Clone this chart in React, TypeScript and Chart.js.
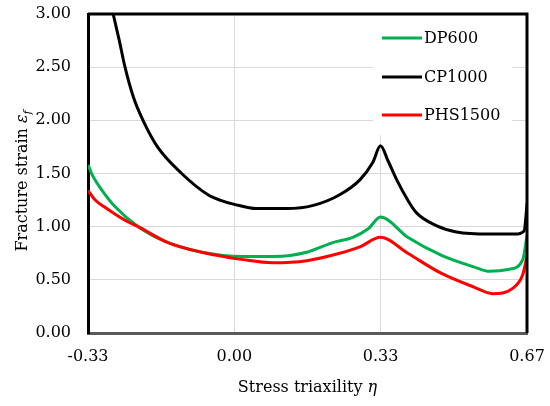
import { useRef, useEffect } from "react";
import { Chart, registerables, type Plugin } from "chart.js";

Chart.register(...registerables);

const FONT = "'DejaVu Serif', 'Liberation Serif', serif";

// stress triaxiality (x) and fracture strain (y)
const dp600Eta = [-0.333, -0.324, -0.301, -0.272, -0.219, -0.151, -0.074, 0.02, 0.09, 0.165, 0.224, 0.27, 0.305, 0.333, 0.395, 0.472, 0.547, 0.581, 0.627, 0.657, 0.667];
const dp600Strain = [1.58, 1.49, 1.34, 1.19, 1.0, 0.85, 0.76, 0.72, 0.72, 0.76, 0.85, 0.9, 0.98, 1.09, 0.9, 0.73, 0.62, 0.58, 0.6, 0.69, 0.92];

const cp1000Eta = [-0.276, -0.262, -0.249, -0.23, -0.208, -0.175, -0.12, -0.06, -0.033, 0.0, 0.05, 0.12, 0.18, 0.24, 0.286, 0.315, 0.333, 0.35, 0.37, 0.395, 0.415, 0.46, 0.506, 0.581, 0.64, 0.66, 0.667];
const cp1000Strain = [3.0, 2.75, 2.5, 2.22, 2.0, 1.75, 1.5, 1.3, 1.25, 1.21, 1.17, 1.17, 1.2, 1.3, 1.44, 1.6, 1.76, 1.62, 1.44, 1.25, 1.13, 1.01, 0.95, 0.93, 0.93, 0.96, 1.22];

const phs1500Eta = [-0.333, -0.317, -0.294, -0.249, -0.219, -0.151, -0.074, 0.02, 0.088, 0.165, 0.24, 0.286, 0.333, 0.395, 0.472, 0.547, 0.588, 0.634, 0.657, 0.667];
const phs1500Strain = [1.34, 1.25, 1.18, 1.06, 1.0, 0.85, 0.76, 0.69, 0.66, 0.68, 0.75, 0.81, 0.9, 0.75, 0.56, 0.43, 0.37, 0.42, 0.55, 0.73];

const seriesNames = ["DP600", "CP1000", "PHS1500"];
const seriesColors = ["#00b050", "#000000", "#ff0000"];

const xTicks = [-1 / 3, 0, 1 / 3, 2 / 3];

const toPoints = (xs: number[], ys: number[]) => xs.map((x, i) => ({ x, y: ys[i] }));

// titles, legend box and the top/right frame
const decorPlugin: Plugin<"line"> = {
  id: "decor",
  afterDatasetsDraw(chart) {
    const { ctx, chartArea } = chart;
    ctx.save();

    // legend
    ctx.fillStyle = "#fff";
    ctx.fillRect(373, chartArea.top, 139, 121);
    const rows = [38, 77, 115];
    ctx.font = `16px ${FONT}`;
    ctx.textBaseline = "middle";
    chart.data.datasets.forEach((ds, i) => {
      ctx.strokeStyle = ds.borderColor as string;
      ctx.lineWidth = 3;
      ctx.beginPath();
      ctx.moveTo(382, rows[i]);
      ctx.lineTo(422, rows[i]);
      ctx.stroke();
      ctx.fillStyle = "#000";
      ctx.fillText(ds.label ?? "", 424, rows[i] + 1);
    });

    // frame top/right
    ctx.strokeStyle = "#000";
    ctx.lineWidth = 3;
    ctx.beginPath();
    ctx.moveTo(chartArea.left, chartArea.top);
    ctx.lineTo(chartArea.right, chartArea.top);
    ctx.lineTo(chartArea.right, chartArea.bottom);
    ctx.stroke();

    // x title
    ctx.fillStyle = "#000";
    ctx.textBaseline = "alphabetic";
    const xa = "Stress triaxility ";
    ctx.font = `16px ${FONT}`;
    const wa = ctx.measureText(xa).width;
    ctx.font = `italic 16px ${FONT}`;
    const wb = ctx.measureText("η").width;
    let sx = (chartArea.left + chartArea.right) / 2 - (wa + wb) / 2;
    ctx.font = `16px ${FONT}`;
    ctx.fillText(xa, sx, 392);
    ctx.font = `italic 16px ${FONT}`;
    ctx.fillText("η", sx + wa, 392);

    // y title
    ctx.translate(27, 181);
    ctx.rotate(-Math.PI / 2);
    const ya = "Fracture strain ";
    ctx.font = `16px ${FONT}`;
    const w1 = ctx.measureText(ya).width;
    ctx.font = `italic 16px ${FONT}`;
    const w2 = ctx.measureText("ε").width;
    ctx.font = `italic 11px ${FONT}`;
    const w3 = ctx.measureText("f").width;
    sx = -(w1 + w2 + w3) / 2;
    ctx.font = `16px ${FONT}`;
    ctx.fillText(ya, sx, 0);
    ctx.font = `italic 16px ${FONT}`;
    ctx.fillText("ε", sx + w1, 0);
    ctx.font = `italic 11px ${FONT}`;
    ctx.fillText("f", sx + w1 + w2, 4);

    ctx.restore();
  },
};

function FractureChart() {
  const canvasRef = useRef<HTMLCanvasElement>(null);
  const chartRef = useRef<Chart<"line"> | null>(null);

  useEffect(() => {
    if (!canvasRef.current) return;
    chartRef.current?.destroy();

    const data = [
      toPoints(dp600Eta, dp600Strain),
      toPoints(cp1000Eta, cp1000Strain),
      toPoints(phs1500Eta, phs1500Strain),
    ];

    chartRef.current = new Chart(canvasRef.current, {
      type: "line",
      data: {
        datasets: seriesNames.map((name, i) => ({
          label: name,
          data: data[i],
          borderColor: seriesColors[i],
          borderWidth: 3,
          pointRadius: 0,
          cubicInterpolationMode: "monotone" as const,
          order: 2 - i,
        })),
      },
      options: {
        animation: false,
        responsive: true,
        maintainAspectRatio: false,
        layout: { padding: { left: 0, top: 14, right: 23, bottom: 0 } },
        plugins: { legend: { display: false }, tooltip: { enabled: false } },
        scales: {
          x: {
            type: "linear",
            min: -1 / 3,
            max: 2 / 3,
            afterBuildTicks: (axis) => {
              axis.ticks = xTicks.map((value) => ({ value }));
            },
            afterFit: (axis) => {
              axis.height = 73;
              axis.paddingLeft = 0;
              axis.paddingRight = 0;
            },
            ticks: {
              padding: 14,
              color: "#000",
              font: { family: FONT, size: 16 },
              callback: (v) => Number(v).toFixed(2),
            },
            grid: { color: "#d9d9d9", lineWidth: 1, drawTicks: false },
            border: { color: "#595959", width: 3 },
          },
          y: {
            min: 0,
            max: 3,
            afterFit: (axis) => {
              axis.width = 88;
              axis.paddingTop = 0;
              axis.paddingBottom = 0;
            },
            ticks: {
              stepSize: 0.5,
              padding: 17,
              color: "#000",
              font: { family: FONT, size: 16 },
              callback: (v) => Number(v).toFixed(2),
            },
            grid: { color: "#d9d9d9", lineWidth: 1, drawTicks: false },
            border: { color: "#000", width: 3 },
          },
        },
      },
      plugins: [decorPlugin],
    });

    return () => {
      chartRef.current?.destroy();
      chartRef.current = null;
    };
  }, []);

  return (
    <div style={{ position: "fixed", left: 0, top: 0, width: 550, height: 406, background: "#fff" }}>
      <canvas ref={canvasRef} />
    </div>
  );
}

export default function App() {
  return <FractureChart />;
}
